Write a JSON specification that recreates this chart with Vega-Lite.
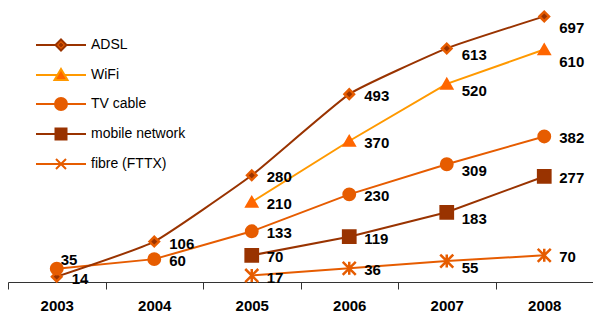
{
  "$schema": "https://vega.github.io/schema/vega-lite/v6.json",
  "width": 585,
  "height": 282,
  "autosize": {"type": "none"},
  "padding": {"left": 8, "top": 0, "right": 0, "bottom": 31},
  "background": "white",
  "config": {"view": {"stroke": null}, "font": "Liberation Sans"},
  "data": {
    "values": [
      {"year": "2003", "series": "ADSL", "value": 14},
      {"year": "2004", "series": "ADSL", "value": 106},
      {"year": "2005", "series": "ADSL", "value": 280},
      {"year": "2006", "series": "ADSL", "value": 493},
      {"year": "2007", "series": "ADSL", "value": 613},
      {"year": "2008", "series": "ADSL", "value": 697},
      {"year": "2005", "series": "WiFi", "value": 210},
      {"year": "2006", "series": "WiFi", "value": 370},
      {"year": "2007", "series": "WiFi", "value": 520},
      {"year": "2008", "series": "WiFi", "value": 610},
      {"year": "2003", "series": "TV cable", "value": 35},
      {"year": "2004", "series": "TV cable", "value": 60},
      {"year": "2005", "series": "TV cable", "value": 133},
      {"year": "2006", "series": "TV cable", "value": 230},
      {"year": "2007", "series": "TV cable", "value": 309},
      {"year": "2008", "series": "TV cable", "value": 382},
      {"year": "2005", "series": "mobile network", "value": 70},
      {"year": "2006", "series": "mobile network", "value": 119},
      {"year": "2007", "series": "mobile network", "value": 183},
      {"year": "2008", "series": "mobile network", "value": 277},
      {"year": "2005", "series": "fibre (FTTX)", "value": 17},
      {"year": "2006", "series": "fibre (FTTX)", "value": 36},
      {"year": "2007", "series": "fibre (FTTX)", "value": 55},
      {"year": "2008", "series": "fibre (FTTX)", "value": 70}
    ]
  },
  "encoding": {
    "x": {
      "field": "year",
      "type": "ordinal",
      "scale": {"type": "band", "paddingInner": 0, "paddingOuter": 0},
      "axis": {
        "title": null,
        "labelAngle": 0,
        "labelFont": "Liberation Sans",
        "labelFontSize": 15,
        "labelFontWeight": "bold",
        "labelColor": "black",
        "labelPadding": 9,
        "tickBand": "extent",
        "tickSize": 7,
        "tickColor": "#333333",
        "tickWidth": 1,
        "domainColor": "#333333",
        "domainWidth": 1,
        "grid": false
      }
    },
    "y": {
      "field": "value",
      "type": "quantitative",
      "scale": {"domain": [0, 740], "nice": false},
      "axis": null
    }
  },
  "layer": [
    {
      "mark": {"type": "point", "filled": true, "opacity": 0},
      "encoding": {
        "shape": {
          "field": "series", "type": "nominal",
          "scale": {
            "domain": ["ADSL", "WiFi", "TV cable", "mobile network", "fibre (FTTX)"],
            "range": [
              "M-2.5,0H-0.55M0.55,0H2.5M0,-0.55L0.55,0L0,0.55L-0.55,0ZM0,-0.12L-0.12,0L0,0.12L0.12,0Z",
              "M-2.5,0H-0.4M0.4,0H2.5M0,-0.6L0.65,0.5L-0.65,0.5Z",
              "M-2.5,0H-0.6M0.6,0H2.5M0.6,0A0.6,0.6 0 1,1 -0.6,0A0.6,0.6 0 1,1 0.6,0Z",
              "M-2.5,0H-0.55M0.55,0H2.5M-0.55,-0.55H0.55V0.55H-0.55Z",
              "M-2.5,0H2.5M-0.5,-0.5L0.5,0.5M0.5,-0.5L-0.5,0.5"
            ]
          },
          "legend": {"title": null, "orient": "none", "legendX": 42, "legendY": 34, "symbolSize": 400, "symbolStrokeWidth": 2, "symbolOpacity": 1, "labelFont": "Liberation Sans", "labelFontSize": 14, "labelColor": "black", "labelOffset": 19, "rowPadding": 9, "padding": 0}
        },
        "fill": {
          "field": "series", "type": "nominal",
          "scale": {
            "domain": ["ADSL", "WiFi", "TV cable", "mobile network", "fibre (FTTX)"],
            "range": ["#E65C00", "#FF6600", "#E65C00", "#993300", "transparent"]
          },
          "legend": {"title": null, "orient": "none", "legendX": 42, "legendY": 34, "symbolSize": 400, "symbolStrokeWidth": 2, "symbolOpacity": 1, "labelFont": "Liberation Sans", "labelFontSize": 14, "labelColor": "black", "labelOffset": 19, "rowPadding": 9, "padding": 0}
        },
        "stroke": {
          "field": "series", "type": "nominal",
          "scale": {
            "domain": ["ADSL", "WiFi", "TV cable", "mobile network", "fibre (FTTX)"],
            "range": ["#993300", "#FF9900", "#E65C00", "#993300", "#E65C00"]
          },
          "legend": {"title": null, "orient": "none", "legendX": 42, "legendY": 34, "symbolSize": 400, "symbolStrokeWidth": 2, "symbolOpacity": 1, "labelFont": "Liberation Sans", "labelFontSize": 14, "labelColor": "black", "labelOffset": 19, "rowPadding": 9, "padding": 0}
        }
      }
    },
    {
      "transform": [{"filter": "datum.series != 'ADSL'"}],
      "mark": {"type": "line", "strokeWidth": 2, "interpolate": "linear"},
      "encoding": {
        "color": {
          "field": "series", "type": "nominal",
          "scale": {
            "domain": ["ADSL", "WiFi", "TV cable", "mobile network", "fibre (FTTX)"],
            "range": ["#993300", "#FF9900", "#E65C00", "#993300", "#E65C00"]
          },
          "legend": null
        }
      }
    },
    {
      "transform": [{"filter": "datum.series == 'ADSL'"}],
      "mark": {"type": "line", "strokeWidth": 2, "interpolate": "cardinal", "tension": 0.6, "color": "#993300"},
      "encoding": {}
    },
    {
      "mark": {"type": "point", "filled": true, "opacity": 1, "strokeWidth": 2.5},
      "encoding": {
        "shape": {
          "field": "series", "type": "nominal",
          "scale": {
            "domain": ["ADSL", "WiFi", "TV cable", "mobile network", "fibre (FTTX)"],
            "range": ["diamond", "triangle-up", "circle", "square", "M-1,-1L1,1M1,-1L-1,1M0,-1L0,1"]
          },
          "legend": null
        },
        "fill": {
          "field": "series", "type": "nominal",
          "scale": {
            "domain": ["ADSL", "WiFi", "TV cable", "mobile network", "fibre (FTTX)"],
            "range": ["#993300", "#FF6600", "#E65C00", "#993300", "transparent"]
          },
          "legend": null
        },
        "stroke": {
          "field": "series", "type": "nominal",
          "scale": {
            "domain": ["ADSL", "WiFi", "TV cable", "mobile network", "fibre (FTTX)"],
            "range": ["#E65C00", "#FF6600", "#E65C00", "#993300", "#E65C00"]
          },
          "legend": null
        },
        "size": {
          "field": "series", "type": "ordinal",
          "scale": {
            "domain": ["ADSL", "WiFi", "TV cable", "mobile network", "fibre (FTTX)"],
            "range": [90, 170, 156, 156, 196]
          },
          "legend": null
        }
      }
    },
    {
      "transform": [{"filter": "!(datum.year == '2003' && datum.series == 'TV cable') && datum.year != '2007' && !(datum.year == '2008' && (datum.series == 'ADSL' || datum.series == 'WiFi'))"}],
      "mark": {"type": "text", "align": "left", "baseline": "middle", "dx": 15, "dy": 2, "font": "Liberation Sans", "fontSize": 15, "fontWeight": "bold", "fill": "black"},
      "encoding": {"text": {"field": "value", "type": "quantitative"}}
    },
    {
      "transform": [{"filter": "datum.year == '2007'"}],
      "mark": {"type": "text", "align": "left", "baseline": "middle", "dx": 15, "dy": 7, "font": "Liberation Sans", "fontSize": 15, "fontWeight": "bold", "fill": "black"},
      "encoding": {"text": {"field": "value", "type": "quantitative"}}
    },
    {
      "transform": [{"filter": "datum.year == '2008' && (datum.series == 'ADSL' || datum.series == 'WiFi')"}],
      "mark": {"type": "text", "align": "left", "baseline": "middle", "dx": 15, "dy": 12, "font": "Liberation Sans", "fontSize": 15, "fontWeight": "bold", "fill": "black"},
      "encoding": {"text": {"field": "value", "type": "quantitative"}}
    },
    {
      "transform": [{"filter": "datum.year == '2003' && datum.series == 'TV cable'"}],
      "mark": {"type": "text", "align": "left", "baseline": "middle", "dx": 4, "dy": -9, "font": "Liberation Sans", "fontSize": 15, "fontWeight": "bold", "fill": "black"},
      "encoding": {"text": {"field": "value", "type": "quantitative"}}
    }
  ],
  "resolve": {"scale": {"fill": "independent", "stroke": "independent", "shape": "independent", "size": "independent"}}
}
